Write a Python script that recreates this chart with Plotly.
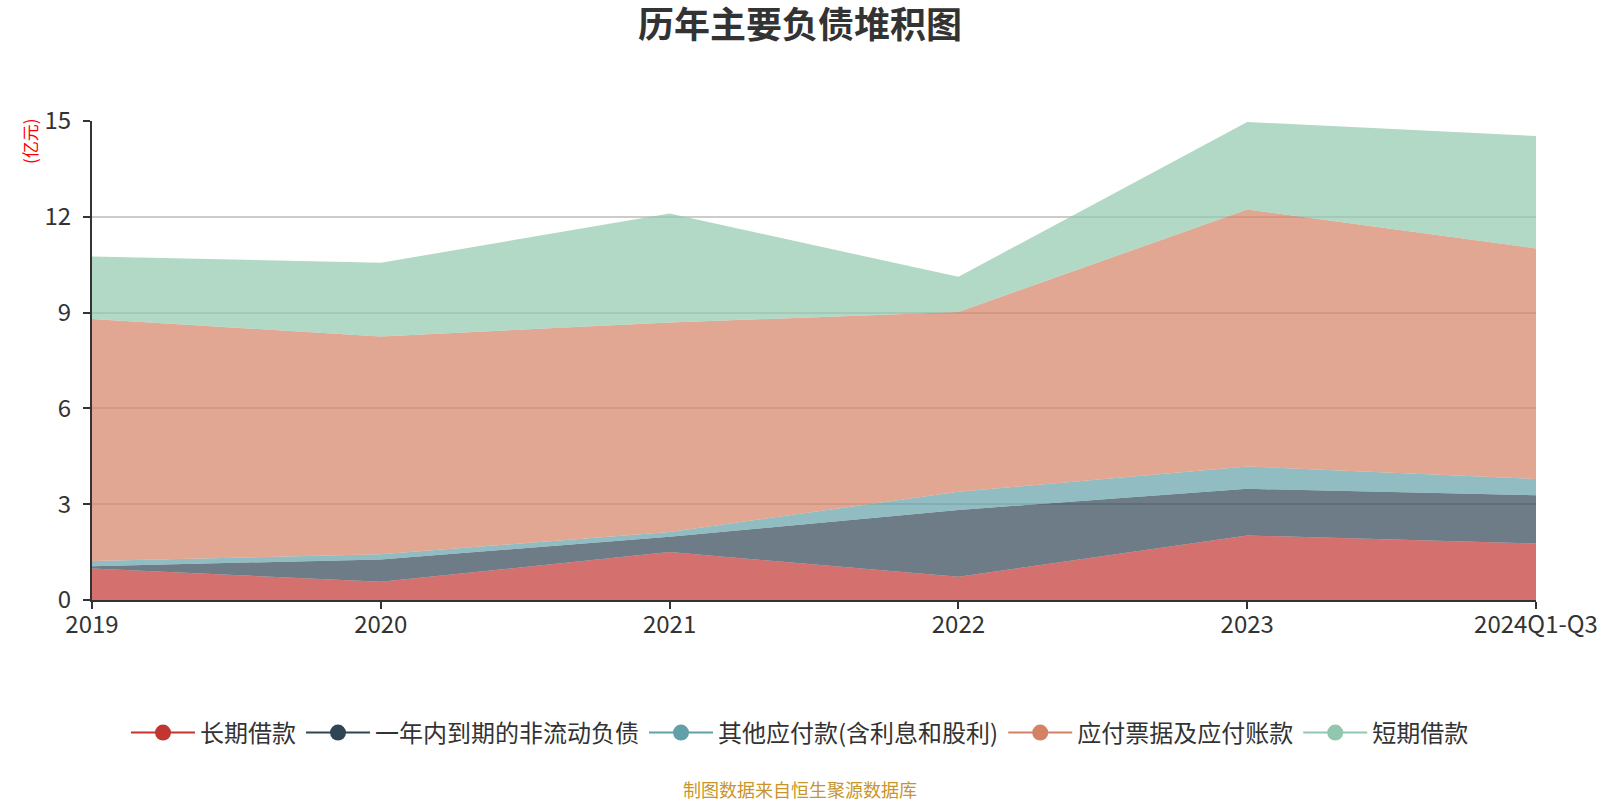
import plotly.graph_objects as go

# ---------------------------------------------------------------------------
# Data (亿元)
# ---------------------------------------------------------------------------
periods = ["2019", "2020", "2021", "2022", "2023", "2024Q1-Q3"]

long_term_loans = [0.99, 0.57, 1.50, 0.73, 2.02, 1.77]          # 长期借款
current_noncurrent = [0.07, 0.70, 0.48, 2.09, 1.46, 1.51]       # 一年内到期的非流动负债
other_payables = [0.16, 0.16, 0.15, 0.57, 0.70, 0.51]           # 其他应付款(含利息和股利)
notes_accounts_payable = [7.58, 6.82, 6.56, 5.63, 8.05, 7.22]   # 应付票据及应付账款
short_term_loans = [1.96, 2.31, 3.41, 1.10, 2.74, 3.52]         # 短期借款

series = [
    ("长期借款", long_term_loans, "#c23531"),
    ("一年内到期的非流动负债", current_noncurrent, "#2f4554"),
    ("其他应付款(含利息和股利)", other_payables, "#61a0a8"),
    ("应付票据及应付账款", notes_accounts_payable, "#d48265"),
    ("短期借款", short_term_loans, "#91c7ae"),
]

FONT = "Noto Sans CJK SC"
W, H = 1600, 800
# plot area edges in page pixels
PL, PR, PT, PB = 92, 1536, 121, 600


def rgba(hex_color: str, alpha: float) -> str:
    h = hex_color.lstrip("#")
    r, g, b = (int(h[i:i + 2], 16) for i in (0, 2, 4))
    return f"rgba({r},{g},{b},{alpha})"


def paper_xy(px, py):
    """page pixel -> paper coords"""
    return (px - PL) / (PR - PL), (PB - py) / (PB - PT)


fig = go.Figure()

for name, values, color in series:
    # stacked area, no outline
    fig.add_trace(go.Scatter(
        x=periods, y=values, name=name, stackgroup="debt",
        mode="lines", line=dict(width=0, color=color),
        fillcolor=rgba(color, 0.7), showlegend=False, hoverinfo="x+y+name",
    ))
    # legend-only entry: line with circle (echarts style)
    fig.add_trace(go.Scatter(
        x=[None], y=[None], name=name, mode="lines+markers",
        line=dict(color=color, width=2), marker=dict(color=color, size=20),
        showlegend=True,
    ))

ylab_x, ylab_y = paper_xy(29, 141)
foot_x, foot_y = paper_xy(800, 789)

fig.update_layout(
    width=W,
    height=H,
    paper_bgcolor="white",
    plot_bgcolor="white",
    font=dict(family=FONT, color="#333333", size=24),
    margin=dict(l=PL, r=W - PR, t=PT, b=H - PB, autoexpand=False),
    title=dict(
        text="<b>历年主要负债堆积图</b>",
        x=0.5, xref="container", xanchor="center",
        y=1 - 25.5 / H, yref="container", yanchor="middle",
        font=dict(family=FONT, size=36, color="#333333"),
    ),
    xaxis=dict(
        type="category",
        range=[0, len(periods) - 1],
        showgrid=False,
        showline=True, linecolor="#333333", linewidth=2,
        ticks="outside", ticklen=7, tickwidth=2, tickcolor="#333333",
        tickfont=dict(size=24, color="#333333"),
        ticklabelstandoff=-5,
        zeroline=False,
    ),
    yaxis=dict(
        range=[0, 15],
        tickvals=[0, 3, 6, 9, 12, 15],
        showgrid=True, gridcolor="#cccccc", gridwidth=1.5,
        showline=True, linecolor="#333333", linewidth=2,
        ticks="outside", ticklen=7, tickwidth=2, tickcolor="#333333",
        tickfont=dict(size=24, color="#333333"),
        ticklabelstandoff=7,
        zeroline=False,
    ),
    legend=dict(
        orientation="h",
        traceorder="normal",
        x=0.5, xref="container", xanchor="center",
        y=1 - 733 / H, yref="container", yanchor="middle",
        font=dict(size=24, color="#333333"),
        itemsizing="trace",
        itemwidth=64,
        bgcolor="rgba(0,0,0,0)",
    ),
    annotations=[
        dict(
            text="(亿元)", textangle=-90,
            xref="paper", yref="paper", x=ylab_x, y=ylab_y,
            xanchor="center", yanchor="middle", showarrow=False,
            font=dict(family=FONT, size=17, color="#ff0000"),
        ),
        dict(
            text="制图数据来自恒生聚源数据库",
            xref="paper", yref="paper", x=foot_x, y=foot_y,
            xanchor="center", yanchor="middle", showarrow=False,
            font=dict(family=FONT, size=18, color="#c9952b"),
        ),
    ],
    hovermode="x unified",
)

# drop the browser's default 8px body margin so the figure fills the window
fig.write_html(
    "out.html",
    config={"displayModeBar": False},
    post_script="document.body.style.margin='0';",
)
